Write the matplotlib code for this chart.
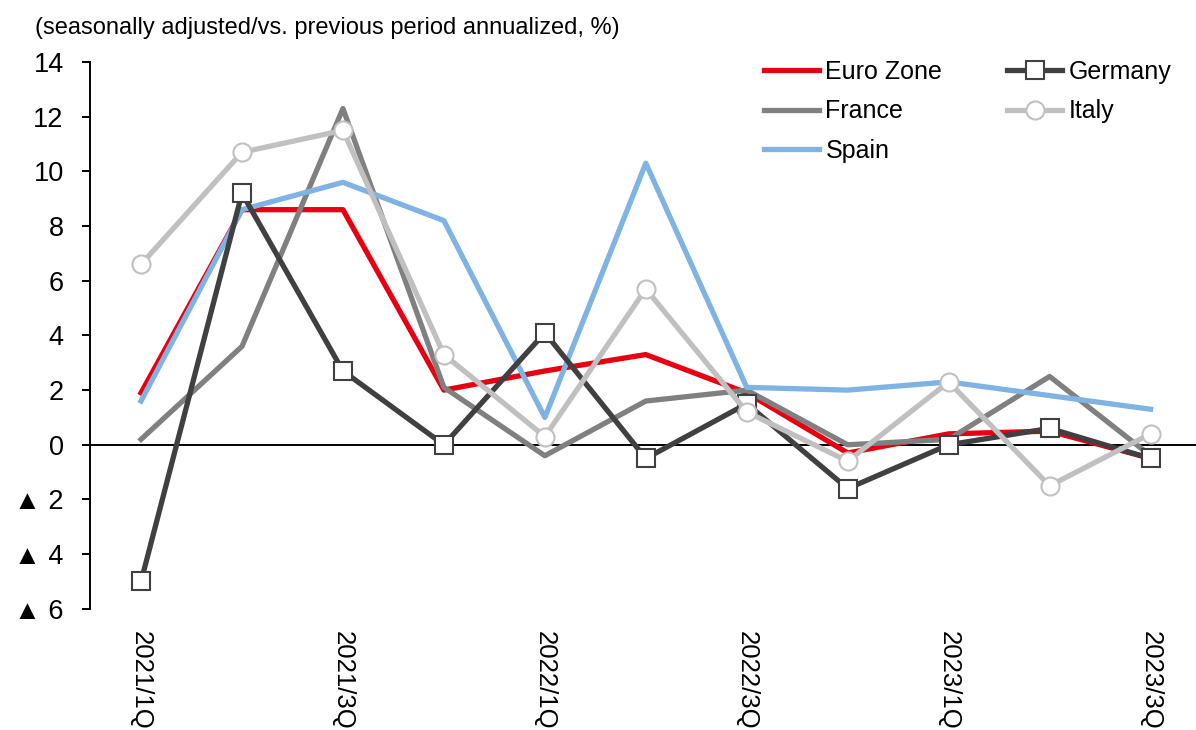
import matplotlib
matplotlib.use("Agg")
import matplotlib.pyplot as plt

plt.rcParams['font.family'] = ['Liberation Sans', 'DejaVu Sans']

quarters = ['2021/1Q', '2021/2Q', '2021/3Q', '2021/4Q', '2022/1Q', '2022/2Q',
            '2022/3Q', '2022/4Q', '2023/1Q', '2023/2Q', '2023/3Q']

euro_zone = [1.9, 8.6, 8.6, 2.0, 2.7, 3.3, 1.9, -0.3, 0.4, 0.5, -0.5]
germany = [-5.0, 9.2, 2.7, 0.0, 4.1, -0.5, 1.5, -1.6, 0.0, 0.6, -0.5]
france = [0.2, 3.6, 12.3, 2.1, -0.4, 1.6, 2.0, 0.0, 0.2, 2.5, -0.4]
italy = [6.6, 10.7, 11.5, 3.3, 0.3, 5.7, 1.2, -0.6, 2.3, -1.5, 0.4]
spain = [1.6, 8.6, 9.6, 8.2, 1.0, 10.3, 2.1, 2.0, 2.3, 1.8, 1.3]

yticks = [-6, -4, -2, 0, 2, 4, 6, 8, 10, 12, 14]
ytick_labels = ['▲ 6', '▲ 4', '▲ 2', '0', '2', '4', '6', '8', '10', '12', '14']

x = list(range(len(quarters)))

fig = plt.figure(figsize=(11.96, 7.3), dpi=100)
ax = fig.add_axes([0.0753, 0.166, 0.9247, 0.749])

lw = 3.8
ax.plot(x, euro_zone, color='#E60012', lw=lw, label='Euro Zone', zorder=3)
ax.plot(x, france, color='#808080', lw=lw, label='France', zorder=3)
ax.plot(x, spain, color='#7EB3E3', lw=lw, label='Spain', zorder=4)
ax.plot(x, germany, color='#404040', lw=lw, marker='s', markersize=12.5,
        markerfacecolor='white', markeredgecolor='#404040', markeredgewidth=1.5,
        label='Germany', zorder=5)
ax.plot(x, italy, color='#C0C0C0', lw=lw, marker='o', markersize=13,
        markerfacecolor='white', markeredgecolor='#C0C0C0', markeredgewidth=1.5,
        label='Italy', zorder=6)

ax.axhline(0, color='black', lw=1.4, zorder=2)

ax.set_xlim(-0.505, 10.45)
ax.set_ylim(-6, 14)

ax.set_yticks(yticks)
ax.set_yticklabels(ytick_labels, fontsize=19.5)
ax.set_xticks(x[::2])
ax.set_xticklabels(quarters[::2], fontsize=18.5, rotation=-90,
                   va='top', ha='center')

for s in ['top', 'right', 'bottom']:
    ax.spines[s].set_visible(False)
ax.spines['left'].set_linewidth(1.4)
ax.tick_params(axis='y', direction='out', length=6, width=1.4, pad=13)
ax.tick_params(axis='x', length=0, pad=16)

fig.text(0.029, 0.962, '(seasonally adjusted/vs. previous period annualized, %)',
         fontsize=17, ha='left', va='center')

ax.legend(ncol=2, loc='upper right', bbox_to_anchor=(0.998, 1.045), frameon=False,
          fontsize=18, handlelength=2.2, handletextpad=0.25, columnspacing=2.6,
          labelspacing=0.62)

fig.savefig('out.png', dpi=100)
